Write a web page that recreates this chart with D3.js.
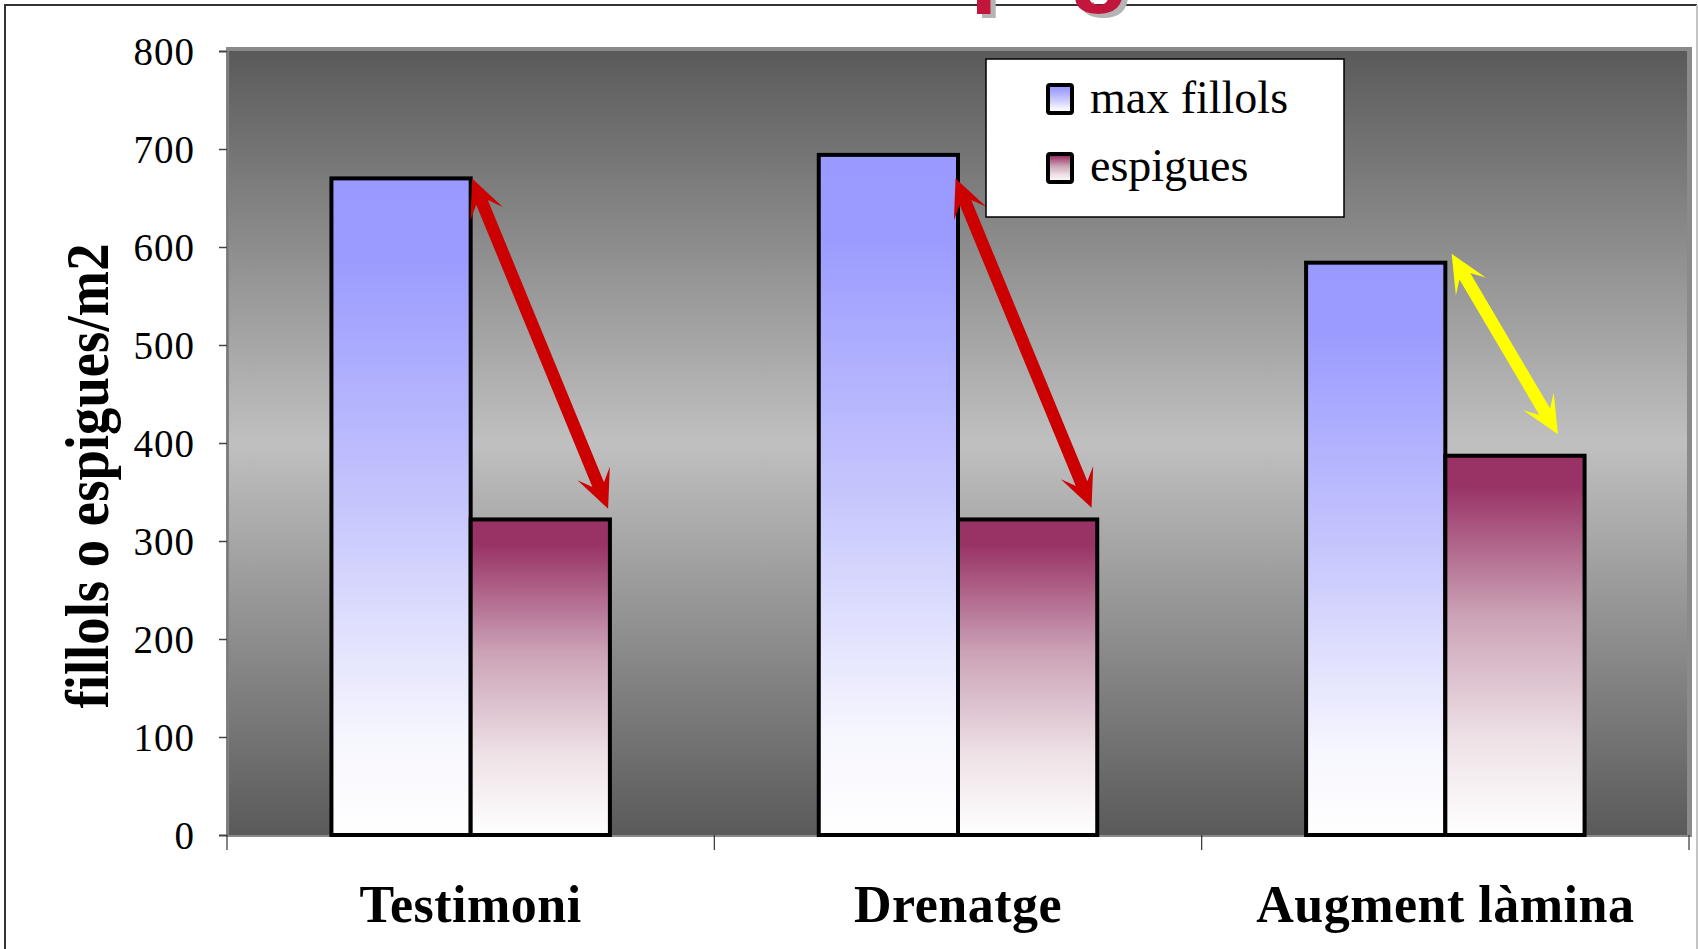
<!DOCTYPE html>
<html><head><meta charset="utf-8">
<script src="https://cdn.jsdelivr.net/npm/d3@7"></script>
<style>body{margin:0;background:#fff;overflow:hidden}</style>
</head><body>
<svg id="c" width="1698" height="949"></svg>
<script>
// ---- data ----
const categories = ["Testimoni", "Drenatge", "Augment làmina"];
const seriesNames = ["max fillols", "espigues"];
const maxFillols = [670, 694, 584];
const espigues = [322, 322, 387];
const yTicks = [0, 100, 200, 300, 400, 500, 600, 700, 800];
const yTitle = "fillols o espigues/m2";
const titleText = "Fillols i espigues";
// annotation arrows: [fraction across the category band, value]
const arrowCats = ["Testimoni", "Drenatge", "Augment làmina"];
const arrowFrom = [[0.503, 670], [0.495, 670], [0.513, 593]];
const arrowTo = [[0.782, 333], [0.774, 334], [0.731, 409]];
const arrowColors = ["#cc0000", "#cc0000", "#ffff00"];

const seriesValues = [maxFillols, espigues];
const svg = d3.select("#c");
const W = 1698, H = 949;
const plot = {l: 227, r: 1689, t: 51, b: 835};

const x = d3.scaleBand().domain(categories).range([plot.l, plot.r]);
const xs = d3.scaleBand().domain(seriesNames).range([0, x.bandwidth()]).paddingOuter(0.75);
const y = d3.scaleLinear().domain([0, 800]).range([plot.b, plot.t]);

const defs = svg.append("defs");
function grad(id, stops) {
  const g = defs.append("linearGradient").attr("id", id)
    .attr("x1", 0).attr("y1", 0).attr("x2", 0).attr("y2", 1);
  stops.forEach(s => g.append("stop").attr("offset", s[0]).attr("stop-color", s[1]));
}
grad("bg", [[0, "#5a5a5a"], [0.5, "#c0c0c0"], [1, "#5a5a5a"]]);
grad("gMax", [[0, "#9999ff"], [0.12, "#9b9bff"], [0.5, "#c6c6fd"], [0.85, "#f6f6fe"], [1, "#ffffff"]]);
grad("gEsp", [[0, "#993366"], [0.08, "#993366"], [0.42, "#cba2b6"], [0.75, "#eee2e7"], [1, "#ffffff"]]);
const fills = ["url(#gMax)", "url(#gEsp)"];
const sh = defs.append("filter").attr("id", "tshadow").attr("x", "-10%").attr("y", "-10%")
  .attr("width", "130%").attr("height", "140%");
sh.append("feDropShadow").attr("dx", 5).attr("dy", 4).attr("stdDeviation", 0)
  .attr("flood-color", "#b4b4b4").attr("flood-opacity", 1);

// frame
svg.append("path").attr("d", `M5,${H} V5 H1697`).attr("fill", "none").attr("stroke", "#333").attr("stroke-width", 2);
svg.append("line").attr("x1", 1697).attr("x2", 1697).attr("y1", 5).attr("y2", H)
  .attr("stroke", "#c4c4c4").attr("stroke-width", 2);

// title (mostly cut off at the top, as in the reference)
const tMain = svg.append("text").text(titleText)
  .attr("font-family", "Liberation Sans, Arial, sans-serif").attr("font-weight", "bold")
  .attr("font-size", 100).attr("letter-spacing", 5).attr("fill", "#c2123e")
  .attr("filter", "url(#tshadow)").attr("x", 0).attr("y", -7);
const pIdx = titleText.indexOf("p");
const px = tMain.node().getStartPositionOfChar(pIdx).x;
tMain.attr("x", 970 - px);

// plot area
svg.append("rect").attr("x", plot.l - 1).attr("y", plot.t - 4)
  .attr("width", plot.r - plot.l + 4).attr("height", plot.b - plot.t + 6).attr("fill", "#8a8a8a");
svg.append("rect").attr("x", plot.l + 2).attr("y", plot.t)
  .attr("width", plot.r - plot.l - 4).attr("height", plot.b - plot.t).attr("fill", "url(#bg)");

// y axis
const yAxis = svg.append("g").attr("transform", `translate(${plot.l},0)`)
  .call(d3.axisLeft(y).tickValues(yTicks).tickSize(8).tickPadding(24).tickFormat(d3.format("d")));
yAxis.select(".domain").attr("stroke", "#7a7a7a").attr("stroke-width", 2);
yAxis.selectAll(".tick line").attr("stroke", "#444").attr("stroke-width", 1.5);
yAxis.selectAll(".tick text").attr("font-family", "Liberation Serif, Times New Roman, serif")
  .attr("font-size", 39).attr("fill", "#000").attr("dy", "0.34em").attr("letter-spacing", 1);

// x axis
const xAxis = svg.append("g").attr("transform", `translate(0,${plot.b})`);
xAxis.append("line").attr("x1", plot.l).attr("x2", plot.r + 2).attr("y1", 1).attr("y2", 1)
  .attr("stroke", "#8a8a8a").attr("stroke-width", 2);
const bounds = categories.map(c => x(c)).concat([x(categories[categories.length - 1]) + x.bandwidth()]);
xAxis.selectAll("line.tk").data(bounds).join("line").attr("class", "tk")
  .attr("x1", d => d).attr("x2", d => d).attr("y1", 0).attr("y2", 15)
  .attr("stroke", "#333").attr("stroke-width", 1.2);
xAxis.selectAll("text").data(categories).join("text")
  .attr("x", d => x(d) + x.bandwidth() / 2).attr("y", 87)
  .attr("text-anchor", "middle").attr("font-family", "Liberation Serif, Times New Roman, serif")
  .attr("font-weight", "bold").attr("font-size", 52).attr("letter-spacing", 0.5).text(d => d);

// y title
svg.append("text").text(yTitle)
  .attr("transform", `translate(108,476) rotate(-90)`)
  .attr("text-anchor", "middle").attr("font-family", "Liberation Serif, Times New Roman, serif")
  .attr("font-weight", "bold").attr("font-size", 62)
  .attr("textLength", 465).attr("lengthAdjust", "spacingAndGlyphs");

// bars
const barData = [];
categories.forEach((c, i) => seriesNames.forEach((s, j) => barData.push({c, s, j, v: seriesValues[j][i]})));
svg.append("g").selectAll("rect").data(barData).join("rect")
  .attr("x", d => x(d.c) + xs(d.s)).attr("y", d => y(d.v))
  .attr("width", xs.bandwidth()).attr("height", d => y(0) - y(d.v))
  .attr("fill", d => fills[d.j]).attr("stroke", "#000").attr("stroke-width", 4);

// arrows
function arrowPath(x1, y1, x2, y2) {
  const sw = 12.5, hl = 38, hw = 17.5, notch = 12;
  const dx = x2 - x1, dy = y2 - y1, len = Math.hypot(dx, dy);
  const ux = dx / len, uy = dy / len, nx = -uy, ny = ux;
  const P = (base, a, b) => [base[0] + ux * a + nx * b, base[1] + uy * a + ny * b];
  const p1 = [x1, y1], p2 = [x2, y2];
  const pts = [
    p1, P(p1, hl, hw), P(p1, hl - notch, sw / 2), P(p2, -(hl - notch), sw / 2), P(p2, -hl, hw),
    p2, P(p2, -hl, -hw), P(p2, -(hl - notch), -sw / 2), P(p1, hl - notch, -sw / 2), P(p1, hl, -hw)
  ];
  return "M" + pts.map(p => p.join(",")).join("L") + "Z";
}
svg.append("g").selectAll("path").data(arrowCats).join("path")
  .attr("d", (c, i) => arrowPath(
    x(c) + arrowFrom[i][0] * x.bandwidth(), y(arrowFrom[i][1]),
    x(c) + arrowTo[i][0] * x.bandwidth(), y(arrowTo[i][1])))
  .attr("fill", (c, i) => arrowColors[i]);

// legend
const lg = svg.append("g");
lg.append("rect").attr("x", 986).attr("y", 59).attr("width", 358).attr("height", 158)
  .attr("fill", "#fff").attr("stroke", "#000").attr("stroke-width", 1.5);
seriesNames.forEach((s, j) => {
  lg.append("rect").attr("x", 1048).attr("y", 85 + j * 69).attr("width", 24).attr("height", 28).attr("rx", 2)
    .attr("fill", fills[j]).attr("stroke", "#000").attr("stroke-width", 4);
  lg.append("text").attr("x", 1090).attr("y", 113 + j * 67.5).text(s)
    .attr("font-family", "Liberation Serif, Times New Roman, serif").attr("font-size", 46);
});
</script>
</body></html>
